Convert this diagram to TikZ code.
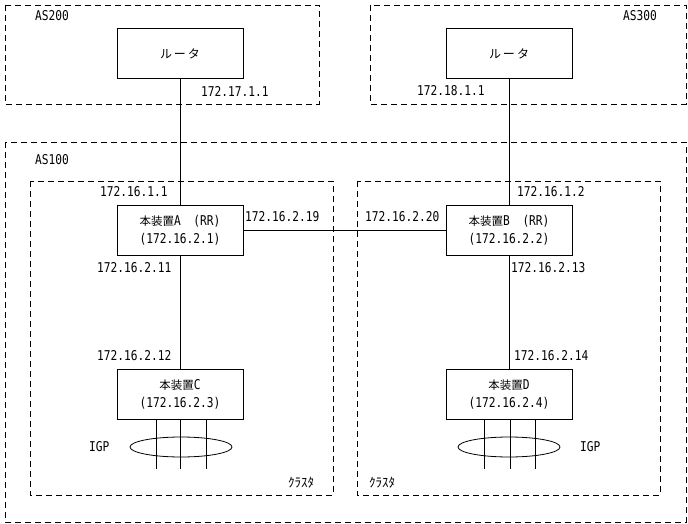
\documentclass[tikz,border=0pt]{standalone}
\usepackage{fontspec}
\setmainfont{DejaVu Sans Mono}[FakeStretch=0.83]
\newfontfamily\jp{Noto Sans CJK JP}
\usetikzlibrary{shapes.geometric}
\begin{document}
\begin{tikzpicture}[x=1pt,y=-1pt,
  every node/.style={font=\fontsize{13.5}{18}\selectfont},
  box/.style={draw, line width=0.8pt, minimum width=126pt, minimum height=50pt, align=center, inner sep=0pt},
  area/.style={draw, line width=0.8pt, dash pattern=on 6pt off 4pt},
  lbl/.style={anchor=west, inner sep=0pt},
  link/.style={line width=0.8pt},
  igp/.style={draw, ellipse, line width=0.8pt, minimum width=102pt, minimum height=20pt, inner sep=0pt}]
\useasboundingbox (0,0) rectangle (688,524);

% areas
\draw[area] (5,5) rectangle (319,104);
\draw[area] (370,5) rectangle (686,104);
\draw[area] (5,142) rectangle (686,522);
\draw[area] (30,181) rectangle (333,495);
\draw[area] (357,181) rectangle (660,495);

% area labels
\node[lbl] (as200) at (35,16) {AS200};
\node[lbl] (as300) at (623,16) {AS300};
\node[lbl] (as100) at (35,160) {AS100};
\node[lbl] (cl1) at (288,483) {\jp\fontsize{13}{15}\selectfont ｸﾗｽﾀ};
\node[lbl] (cl2) at (369,483) {\jp\fontsize{13}{15}\selectfont ｸﾗｽﾀ};

% devices
\node[box] (r200) at (180,53.5) {{\jp\fontsize{12}{14}\selectfont ル\,ー\,タ}};
\node[box] (r300) at (509,53.5) {{\jp\fontsize{12}{14}\selectfont ル\,ー\,タ}};
\node[box] (A) at (180,230.5) {{\jp\fontsize{11.5}{14}\selectfont 本装置}A\hspace{6pt} (RR)\\(172.16.2.1)};
\node[box] (B) at (509,230.5) {{\jp\fontsize{11.5}{14}\selectfont 本装置}B\hspace{6pt} (RR)\\(172.16.2.2)};
\node[box] (C) at (180,394) {{\jp\fontsize{11.5}{14}\selectfont 本装置}C\\(172.16.2.3)};
\node[box] (D) at (509,394) {{\jp\fontsize{11.5}{14}\selectfont 本装置}D\\(172.16.2.4)};

% links
\draw[link] (r200) -- (A);
\draw[link] (r300) -- (B);
\draw[link] (A) -- (B);
\draw[link] (A) -- (C);
\draw[link] (B) -- (D);

% address labels
\node[lbl] (l1) at (201,91) {172.17.1.1};
\node[lbl] (l2) at (417,91) {172.18.1.1};
\node[lbl] (l3) at (100,192) {172.16.1.1};
\node[lbl] (l4) at (245,217) {172.16.2.19};
\node[lbl] (l5) at (97,268) {172.16.2.11};
\node[lbl] (l6) at (517,192) {172.16.1.2};
\node[lbl] (l7) at (365,217) {172.16.2.20};
\node[lbl] (l8) at (511,268) {172.16.2.13};
\node[lbl] (l9) at (97,356) {172.16.2.12};
\node[lbl] (l10) at (514,356) {172.16.2.14};

% IGP
\node[igp] (e1) at (181,447) {};
\node[igp] (e2) at (509,447) {};
\node[lbl] (igp1) at (89,447) {IGP};
\node[lbl] (igp2) at (580,447) {IGP};

\coordinate (c1) at (156,469);
\coordinate (c2) at (180,469);
\coordinate (c3) at (206,469);
\coordinate (d1) at (484,469);
\coordinate (d2) at (510,469);
\coordinate (d3) at (535,469);
\draw[link] (C.south -| c1) -- (c1);
\draw[link] (C.south -| c2) -- (c2);
\draw[link] (C.south -| c3) -- (c3);
\draw[link] (D.south -| d1) -- (d1);
\draw[link] (D.south -| d2) -- (d2);
\draw[link] (D.south -| d3) -- (d3);
\end{tikzpicture}
\end{document}
